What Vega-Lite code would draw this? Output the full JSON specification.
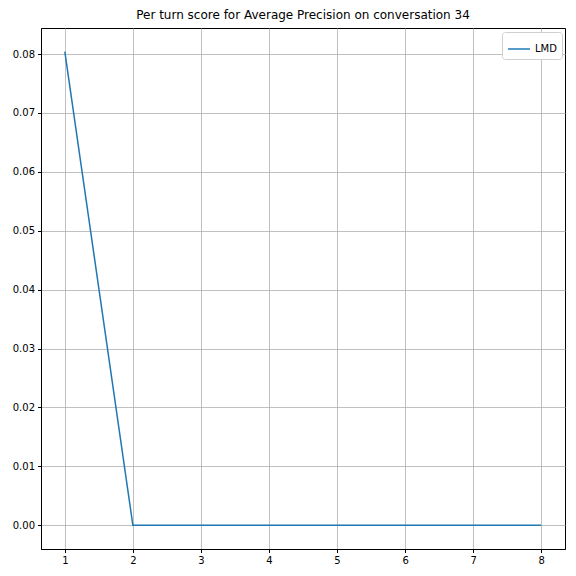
{
  "$schema": "https://vega.github.io/schema/vega-lite/v6.json",
  "width": 524,
  "height": 521,
  "autosize": {"type": "none"},
  "padding": {"left": 41, "top": 28, "right": 11, "bottom": 27},
  "background": "white",
  "title": {"text": "Per turn score for Average Precision on conversation 34", "font": "DejaVu Sans", "fontSize": 12, "fontWeight": "normal", "color": "black", "offset": 6},
  "config": {
    "view": {"stroke": "black", "strokeWidth": 1},
    "axis": {"labelFont": "DejaVu Sans", "labelFontSize": 10, "labelColor": "black", "tickColor": "black", "domainColor": "black", "gridColor": "#b0b0b0", "gridWidth": 0.8, "tickSize": 3.5, "labelPadding": 3, "title": null}
  },
  "data": {"values": [
    {"turn": 1, "score": 0.0804, "series": "LMD"},
    {"turn": 2, "score": 0.0, "series": "LMD"},
    {"turn": 3, "score": 0.0, "series": "LMD"},
    {"turn": 4, "score": 0.0, "series": "LMD"},
    {"turn": 5, "score": 0.0, "series": "LMD"},
    {"turn": 6, "score": 0.0, "series": "LMD"},
    {"turn": 7, "score": 0.0, "series": "LMD"},
    {"turn": 8, "score": 0.0, "series": "LMD"}
  ]},
  "mark": {"type": "line", "strokeWidth": 1.5},
  "encoding": {
    "x": {"field": "turn", "type": "quantitative", "scale": {"domain": [0.65, 8.35], "nice": false, "zero": false}, "axis": {"values": [1,2,3,4,5,6,7,8], "format": "d", "grid": true}},
    "y": {"field": "score", "type": "quantitative", "scale": {"domain": [-0.00402, 0.08442], "nice": false, "zero": false}, "axis": {"values": [0,0.01,0.02,0.03,0.04,0.05,0.06,0.07,0.08], "format": ".2f", "grid": true}},
    "color": {"field": "series", "type": "nominal", "scale": {"range": ["#1f77b4"]}, "legend": {"title": null, "orient": "none", "legendX": 461, "legendY": 4, "symbolType": "stroke", "symbolStrokeWidth": 1.5, "symbolSize": 480, "labelFont": "DejaVu Sans", "labelFontSize": 10, "labelColor": "black", "strokeColor": "#d0d0d0", "fillColor": "white", "padding": 5, "cornerRadius": 3}}
  }
}
